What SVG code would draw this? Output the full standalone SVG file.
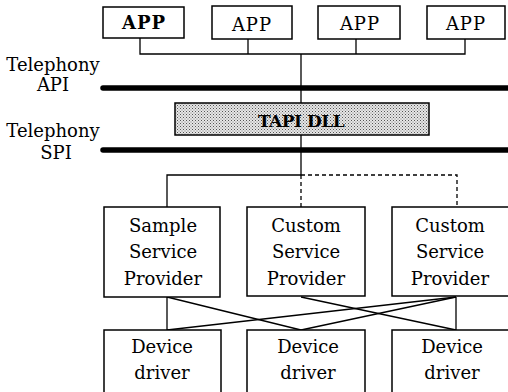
<svg xmlns="http://www.w3.org/2000/svg" width="508" height="392" viewBox="0 0 508 392">
  <defs>
    <!-- halftone dot fill for the DLL layer -->
    <pattern id="dots" width="3" height="3" patternUnits="userSpaceOnUse">
      <rect width="3" height="3" fill="#e6e6e6"/>
      <rect x="0" y="0" width="1" height="1" fill="#555"/>
      <rect x="1.5" y="1.5" width="1" height="1" fill="#7a7a7a"/>
    </pattern>
    <style>
      .box { fill: #fff; stroke: #000; stroke-width: 1.5; }
      .dll { fill: url(#dots); stroke: #000; stroke-width: 1.5; }
      .t { font-family: "DejaVu Serif", "Liberation Serif", serif; font-size: 18px; fill: #000; text-anchor: middle; }
      .app { letter-spacing: 1px; }
      .lbl { font-family: "DejaVu Serif", "Liberation Serif", serif; font-size: 18px; fill: #000; text-anchor: middle; }
      .bold { font-weight: bold; }
      .ln { fill: none; stroke: #000; stroke-width: 1.3; }
      .dash { fill: none; stroke: #000; stroke-width: 1.3; stroke-dasharray: 4 3; }
      .bar { stroke: #000; stroke-width: 5.5; stroke-linecap: round; }
    </style>
  </defs>

  <!-- interface labels and bus bars -->
  <g id="api-layer">
    <text class="lbl" x="53" y="71">Telephony</text>
    <text class="lbl" x="53" y="91">API</text>
    <line class="bar" x1="103" y1="88" x2="512" y2="88"/>
  </g>
  <g id="spi-layer">
    <text class="lbl" x="53" y="137">Telephony</text>
    <text class="lbl" x="56" y="159">SPI</text>
    <line class="bar" x1="103" y1="150" x2="512" y2="150"/>
  </g>

  <!-- connectors -->
  <g id="connectors">
    <!-- application fan-in -->
    <polyline class="ln" points="140,38 140,54 465,54 465,39"/>
    <line class="ln" x1="248" y1="39" x2="248" y2="54"/>
    <line class="ln" x1="356" y1="39" x2="356" y2="54"/>
    <line class="ln" x1="301" y1="54" x2="301" y2="175"/>
    <!-- provider fan-out -->
    <polyline class="ln" points="301,175 167,175 167,207"/>
    <polyline class="dash" points="301,175 457,175 457,207"/>
    <line class="dash" x1="301" y1="175" x2="301" y2="207"/>
    <!-- provider to driver links -->
    <line class="ln" x1="167" y1="297" x2="167" y2="330"/>
    <line class="ln" x1="167" y1="297" x2="301" y2="330"/>
    <line class="ln" x1="301" y1="297" x2="456" y2="330"/>
    <line class="ln" x1="456" y1="297" x2="167" y2="330"/>
    <line class="ln" x1="456" y1="297" x2="301" y2="330"/>
    <line class="ln" x1="456" y1="297" x2="456" y2="330"/>
  </g>

  <!-- applications -->
  <g id="app1">
    <rect class="box" x="103" y="7" width="81" height="31"/>
    <text class="t app bold" x="144" y="29">APP</text>
  </g>
  <g id="app2">
    <rect class="box" x="212" y="6" width="80" height="33"/>
    <text class="t app" x="252" y="31">APP</text>
  </g>
  <g id="app3">
    <rect class="box" x="318" y="6" width="82" height="33"/>
    <text class="t app" x="360" y="30">APP</text>
  </g>
  <g id="app4">
    <rect class="box" x="427" y="6" width="78" height="33"/>
    <text class="t app" x="466" y="30">APP</text>
  </g>

  <!-- TAPI DLL -->
  <g id="tapi-dll">
    <rect class="dll" x="175" y="103" width="254" height="32"/>
    <text class="t bold" x="301" y="127" style="font-size:17px;letter-spacing:-0.5px">TAPI DLL</text>
  </g>

  <!-- service providers -->
  <g id="sp-sample">
    <rect class="box" x="104" y="207" width="116" height="90"/>
    <text class="t" x="163" y="232">Sample</text>
    <text class="t" x="163" y="258">Service</text>
    <text class="t" x="163" y="285">Provider</text>
  </g>
  <g id="sp-custom1">
    <rect class="box" x="247" y="207" width="118" height="89"/>
    <text class="t" x="306" y="232">Custom</text>
    <text class="t" x="306" y="258">Service</text>
    <text class="t" x="306" y="285">Provider</text>
  </g>
  <g id="sp-custom2">
    <rect class="box" x="392" y="207" width="118" height="89"/>
    <text class="t" x="450" y="232">Custom</text>
    <text class="t" x="450" y="258">Service</text>
    <text class="t" x="450" y="285">Provider</text>
  </g>

  <!-- device drivers -->
  <g id="dd1">
    <rect class="box" x="104" y="330" width="117" height="70"/>
    <text class="t" x="162" y="353">Device</text>
    <text class="t" x="162" y="379">driver</text>
  </g>
  <g id="dd2">
    <rect class="box" x="247" y="330" width="118" height="70"/>
    <text class="t" x="308" y="353">Device</text>
    <text class="t" x="308" y="379">driver</text>
  </g>
  <g id="dd3">
    <rect class="box" x="392" y="330" width="118" height="70"/>
    <text class="t" x="452" y="353">Device</text>
    <text class="t" x="452" y="379">driver</text>
  </g>
</svg>
